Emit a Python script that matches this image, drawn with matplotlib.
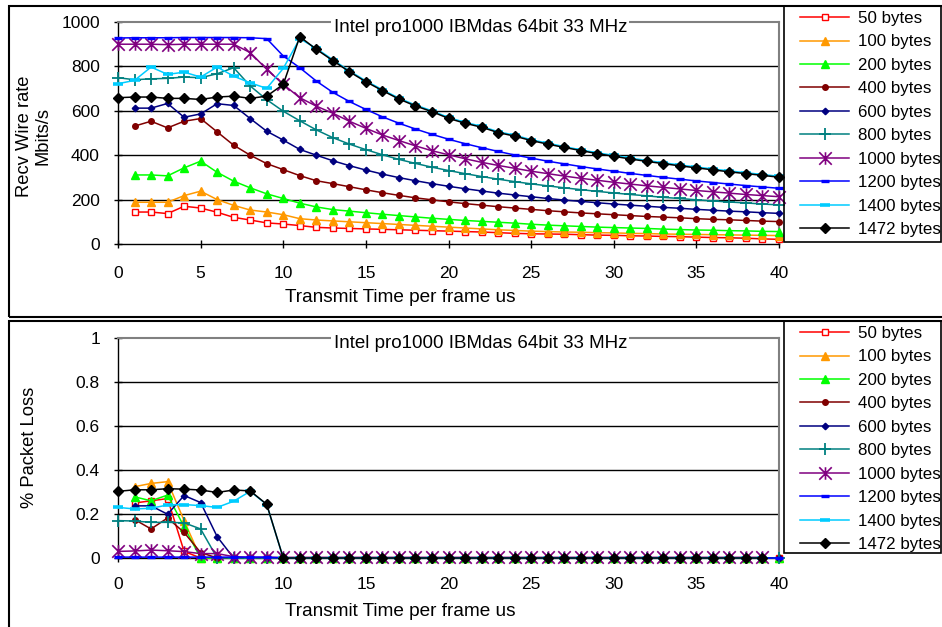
import numpy as np
import matplotlib
matplotlib.use('Agg')
import matplotlib.pyplot as plt
from matplotlib.path import Path
from matplotlib.patches import Rectangle

plt.rcParams['font.family'] = ['Liberation Sans', 'DejaVu Sans']

nan = np.nan
x = list(range(0, 41))
labels = ['50 bytes', '100 bytes', '200 bytes', '400 bytes', '600 bytes',
          '800 bytes', '1000 bytes', '1200 bytes', '1400 bytes', '1472 bytes']

# ---- Recv wire rate (Mbit/s) ----
rate_50 = [nan, 144, 144, 137, 170, 162, 143, 120, 108, 95, 90, 83, 75,
           72, 70, 68, 66, 64, 62, 60, 58, 56, 54, 51, 48, 46, 45, 44, 42, 40,
           39, 37, 36, 34, 33, 31, 29, 28, 26, 23, 21]
rate_100 = [nan, 188, 188, 188, 218, 238, 200, 174, 153, 144, 132, 114, 108,
            104, 100, 96, 92, 88, 84, 80, 76, 72, 68, 64, 61, 58, 56, 54, 53, 51,
            50, 48, 47, 45, 44, 43, 42, 41, 40, 39, 38]
rate_200 = [nan, 311, 311, 307, 343, 373, 323, 283, 253, 226, 205, 184, 167,
            155, 148, 141, 134, 128, 122, 116, 111, 106, 102, 98, 94, 89, 85, 82,
            79, 76, 74, 72, 70, 67, 65, 63, 62, 60, 59, 57, 56]
rate_400 = [nan, 531, 553, 523, 553, 565, 505, 445, 400, 362, 335, 308, 285,
            272, 258, 244, 231, 219, 208, 199, 190, 182, 175, 168, 162, 156, 150,
            145, 140, 136, 132, 128, 124, 121, 118, 114, 111, 109, 106, 103, 101]
rate_600 = [nan, 612, 612, 633, 571, 586, 632, 624, 565, 508, 468, 426, 400,
            375, 353, 333, 315, 299, 285, 272, 260, 249, 239, 229, 221, 213, 205,
            198, 192, 186, 180, 175, 170, 165, 161, 156, 152, 148, 145, 141, 138]
rate_800 = [749, 740, 744, 746, 752, 749, 767, 794, 712, 650, 598, 555, 514,
            479, 450, 425, 402, 381, 363, 346, 331, 317, 304, 292, 281, 271, 262,
            253, 245, 237, 230, 223, 217, 210, 205, 199, 194, 189, 185, 180, 176]
rate_1000 = [900, 900, 900, 898, 900, 900, 900, 900, 862, 787, 719, 659, 621,
             589, 553, 521, 491, 466, 442, 420, 402, 384, 368, 354, 341, 328, 317,
             306, 296, 287, 278, 270, 262, 255, 248, 241, 235, 229, 223, 218, 213]
rate_1200 = [928, 929, 929, 929, 930, 930, 930, 930, 929, 925, 847, 794, 734,
             683, 642, 606, 573, 544, 518, 494, 472, 452, 434, 417, 401, 387, 373,
             361, 349, 338, 328, 318, 309, 300, 292, 284, 277, 270, 263, 257, 251]
rate_1400 = [722, 737, 797, 764, 774, 752, 797, 756, 726, 701, 791, 925, 881,
             830, 780, 735, 695, 657, 626, 600, 570, 548, 530, 506, 490, 470, 454,
             439, 424, 411, 399, 387, 376, 366, 356, 347, 338, 329, 321, 313, 305]
rate_1472 = [659, 662, 662, 656, 656, 651, 662, 666, 656, 666, 719, 934, 877,
             826, 776, 731, 691, 653, 622, 596, 566, 544, 526, 502, 486, 466, 450,
             435, 421, 407, 395, 383, 372, 362, 352, 343, 334, 325, 317, 309, 301]

# ---- Packet loss fraction ----
loss_50 = [nan, 0.25, 0.26, 0.27, 0.03] + [0.0] * 36
loss_100 = [nan, 0.324, 0.339, 0.347, 0.17] + [0.0] * 36
loss_200 = [nan, 0.278, 0.26, 0.286, 0.142] + [0.0] * 36
loss_400 = [nan, 0.175, 0.132, 0.182, 0.116, 0.025] + [0.0] * 35
loss_600 = [nan, 0.237, 0.237, 0.199, 0.284, 0.252, 0.097] + [0.0] * 34
loss_800 = [0.17, 0.168, 0.162, 0.162, 0.16, 0.132] + [0.0] * 35
loss_1000 = [0.03, 0.032, 0.036, 0.033, 0.029, 0.02, 0.02, 0.006] + [0.003] * 32 + [nan]
loss_1200 = [0.004] * 10 + [0.0] * 31
loss_1400 = [0.23, 0.223, 0.226, 0.241, 0.243, 0.238, 0.23, 0.258, 0.303, 0.243] + [0.0] * 30 + [nan]
loss_1472 = [0.303, 0.31, 0.31, 0.315, 0.313, 0.309, 0.298, 0.309, 0.305, 0.244] + [0.0] * 30 + [nan]

rates = [rate_50, rate_100, rate_200, rate_400, rate_600, rate_800,
         rate_1000, rate_1200, rate_1400, rate_1472]
losses = [loss_50, loss_100, loss_200, loss_400, loss_600, loss_800,
          loss_1000, loss_1200, loss_1400, loss_1472]

rate_ticks = [0, 200, 400, 600, 800, 1000]
rate_ticklabels = ['0', '200', '400', '600', '800', '1000']
loss_ticks = [0, 0.2, 0.4, 0.6, 0.8, 1.0]
loss_ticklabels = ['0', '0.2', '0.4', '0.6', '0.8', '1']
x_ticks = [0, 5, 10, 15, 20, 25, 30, 35, 40]
title = 'Intel pro1000 IBMdas 64bit 33 MHz'

TICK_FS = 12.5
LEG_FS = 12.2
TITLE_FS = 13.5
XLAB_FS = 13.7
YLAB_FS = 13.2

star = Path([(0, -1), (0, 1), (-1, -1), (1, 1), (-1, 1), (1, -1)],
            [Path.MOVETO, Path.LINETO] * 3)

styles = [
    dict(color='#FF0000', marker='s', ms=3.8, mfc='white', mec='#FF0000', mew=1.0),
    dict(color='#FF9900', marker='^', ms=5.5, mfc='#FF9900', mec='#FF9900'),
    dict(color='#00FF00', marker='^', ms=5.5, mfc='#00FF00', mec='#00FF00'),
    dict(color='#800000', marker='o', ms=4.0, mfc='#800000', mec='#800000'),
    dict(color='#000080', marker='D', ms=3.3, mfc='#000080', mec='#000080'),
    dict(color='#008080', marker='+', ms=9, mew=1.3),
    dict(color='#800080', marker=star, ms=9, mfc='none', mec='#800080', mew=1.2),
    dict(color='#0000FF', marker='_', ms=5.5, mew=2.4),
    dict(color='#00CCFF', marker='_', ms=6.5, mew=2.6),
    dict(color='#000000', marker='D', ms=5.3, mfc='#000000', mec='#000000'),
]

W, H = 942, 627
fig = plt.figure(figsize=(9.42, 6.27), dpi=100)


def fx(px):
    return px / W


def fy(py):
    return 1 - py / H


# panel frames
for (y0, y1) in [(5.5, 317), (320.5, 660)]:
    fig.patches.append(Rectangle((fx(9), fy(y1)), fx(1000) - fx(9), fy(y0) - fy(y1),
                                 transform=fig.transFigure, fill=False,
                                 ec='black', lw=1.5, zorder=0))
# legend frames
for (y0, y1) in [(5.5, 242), (320.5, 553)]:
    fig.patches.append(Rectangle((fx(784), fy(y1)), fx(941.5) - fx(784), fy(y0) - fy(y1),
                                 transform=fig.transFigure, fill=False,
                                 ec='black', lw=1.2, zorder=0))


def make_axes(top_px, bot_px, data, ticks, ticklabels, ymax, xpad, leg_top_px):
    ax = fig.add_axes([fx(118), fy(bot_px), fx(779) - fx(118), fy(top_px) - fy(bot_px)])
    ax.set_xlim(0, 40)
    ax.set_ylim(0, ymax)
    for t in ticks[1:-1]:
        ax.axhline(t, color='black', lw=1.0, zorder=1)
    handles = []
    for vals, lab, st in zip(data, labels, styles):
        st = dict(st)
        h, = ax.plot(x, vals, lw=1.1, clip_on=False, zorder=3, label=lab, **st)
        handles.append(h)
    ax.set_xticks(x_ticks)
    ax.set_xticklabels([str(v) for v in x_ticks])
    ax.set_yticks(ticks)
    ax.set_yticklabels(ticklabels)
    ax.tick_params(axis='both', direction='inout', length=5.4, width=1.0,
                   labelsize=TICK_FS, colors='black')
    ax.tick_params(axis='y', pad=10.3)
    ax.tick_params(axis='x', pad=xpad)
    ax.spines['left'].set_color('black')
    ax.spines['bottom'].set_color('black')
    ax.spines['left'].set_linewidth(1.0)
    ax.spines['bottom'].set_linewidth(1.0)
    ax.spines['top'].set_color('#808080')
    ax.spines['right'].set_color('#808080')
    ax.spines['top'].set_linewidth(1.5)
    ax.spines['right'].set_linewidth(1.5)
    ax.text(0.548, 1.0 - 5.0 / (bot_px - top_px), title, transform=ax.transAxes,
            ha='center', va='center', fontsize=TITLE_FS, zorder=5,
            bbox=dict(facecolor='white', edgecolor='none', pad=1.5))
    fig.legend(handles=handles, loc='upper left',
               bbox_to_anchor=(fx(800), fy(leg_top_px)),
               bbox_transform=fig.transFigure, frameon=False,
               fontsize=LEG_FS, handlelength=2.9, handletextpad=0.5,
               labelspacing=0.5, borderpad=0.0, borderaxespad=0.0)
    return ax


ax1 = make_axes(22, 244, rates, rate_ticks, rate_ticklabels, 1000, 13.0, 11)
ax2 = make_axes(338, 558, losses, loss_ticks, loss_ticklabels, 1.0, 11.0, 326)

fig.text(fx(400), fy(298), 'Transmit Time per frame us', ha='center', va='center', fontsize=XLAB_FS)
fig.text(fx(400), fy(612), 'Transmit Time per frame us', ha='center', va='center', fontsize=XLAB_FS)
fig.text(fx(34), fy(136), 'Recv Wire rate\nMbits/s', ha='center', va='center',
         rotation=90, fontsize=YLAB_FS, multialignment='center', linespacing=1.1)
fig.text(fx(29), fy(447), '% Packet Loss', ha='center', va='center',
         rotation=90, fontsize=YLAB_FS)

fig.savefig('out.png', dpi=100)
